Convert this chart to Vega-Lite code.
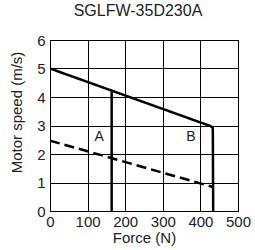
{
  "$schema": "https://vega.github.io/schema/vega-lite/v6.json",
  "autosize": "none",
  "width": 188,
  "height": 171,
  "padding": {"left": 50, "top": 40, "right": 17, "bottom": 39},
  "background": "white",
  "config": {
    "font": "Liberation Sans",
    "view": {"stroke": "black", "strokeWidth": 1}
  },
  "title": {"text": "SGLFW-35D230A", "fontSize": 16, "fontWeight": "normal", "font": "Liberation Sans", "color": "#222", "dx": -6, "offset": 14},
  "datasets": {
    "curves": [
      {"s": "main", "style": "solid", "o": 1, "force": 0, "speed": 5.0},
      {"s": "main", "style": "solid", "o": 2, "force": 427, "speed": 2.98},
      {"s": "main", "style": "solid", "o": 3, "force": 433, "speed": 2.92},
      {"s": "main", "style": "solid", "o": 4, "force": 434, "speed": 0},
      {"s": "A", "style": "solid", "o": 1, "force": 164, "speed": 4.23},
      {"s": "A", "style": "solid", "o": 2, "force": 164, "speed": 0},
      {"s": "dash", "style": "dash", "o": 1, "force": 0, "speed": 2.47},
      {"s": "dash", "style": "dash", "o": 2, "force": 434, "speed": 0.84}
    ],
    "labels": [
      {"label": "A", "force": 131, "speed": 2.6},
      {"label": "B", "force": 375, "speed": 2.6}
    ]
  },
  "encoding": {
    "x": {"field": "force", "type": "quantitative", "scale": {"domain": [0, 500], "nice": false},
      "axis": {"title": "Force (N)", "values": [0, 100, 200, 300, 400, 500], "grid": true, "ticks": false, "labelPadding": 3, "titlePadding": 1, "labelFlush": false, "labelOverlap": false,
        "domainColor": "black", "gridColor": "black", "gridOpacity": 1, "gridWidth": 1, "labelColor": "#222", "titleColor": "#222", "labelFontSize": 15, "titleFontSize": 15, "titleFontWeight": "normal", "labelFont": "Liberation Sans", "titleFont": "Liberation Sans"}},
    "y": {"field": "speed", "type": "quantitative", "scale": {"domain": [0, 6], "nice": false},
      "axis": {"title": "Motor speed (m/s)", "values": [0, 1, 2, 3, 4, 5, 6], "grid": true, "ticks": false, "labelPadding": 5, "titlePadding": 12, "labelFlush": false, "labelOverlap": false, "titleY": 72,
        "domainColor": "black", "gridColor": "black", "gridOpacity": 1, "gridWidth": 1, "labelColor": "#222", "titleColor": "#222", "labelFontSize": 15, "titleFontSize": 15, "titleFontWeight": "normal", "labelFont": "Liberation Sans", "titleFont": "Liberation Sans"}}
  },
  "layer": [
    {
      "data": {"name": "curves"},
      "mark": {"type": "line", "color": "black", "strokeWidth": 2.5, "strokeCap": "butt", "clip": true},
      "encoding": {
        "detail": {"field": "s"},
        "order": {"field": "o"},
        "strokeDash": {"field": "style", "type": "nominal", "scale": {"domain": ["solid", "dash"], "range": [[1, 0], [10, 5]]}, "legend": null}
      }
    },
    {
      "data": {"name": "labels"},
      "mark": {"type": "text", "fontSize": 14, "color": "#222", "font": "Liberation Sans"},
      "encoding": {
        "text": {"field": "label"}
      }
    }
  ]
}
